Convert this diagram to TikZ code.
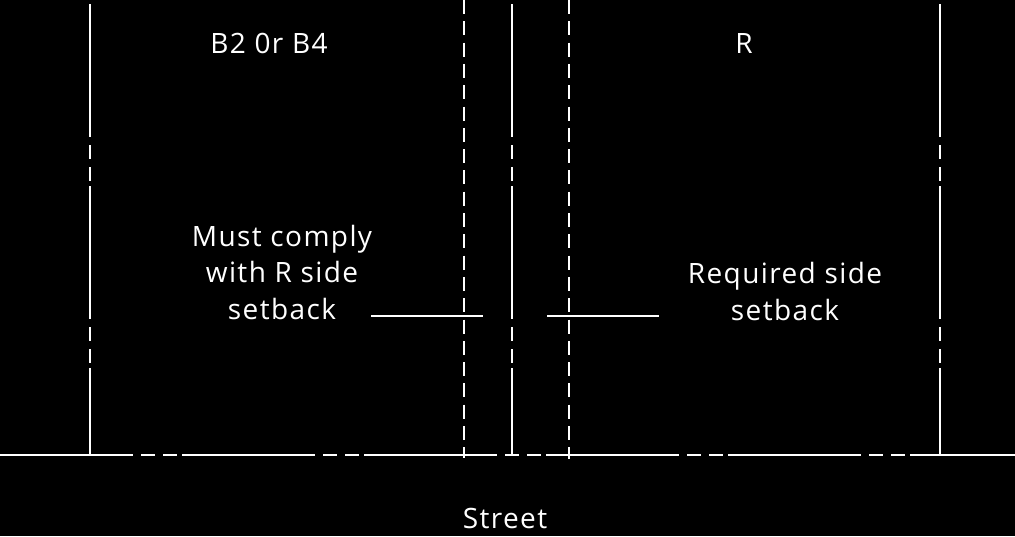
\documentclass[tikz,border=0pt]{standalone}
\usepackage{fontspec}
\setmainfont{Open Sans}[LetterSpace=5]
\begin{document}
\begin{tikzpicture}[x=1pt,y=-1pt,
  lbl/.style={text=white,inner sep=0pt,font=\fontsize{28}{36.5}\selectfont,align=center},
  propline/.style={white,line width=1.6pt,dash pattern=on 133pt off 8pt on 14pt off 8pt on 14pt off 5pt},
  hidden/.style={white,line width=1.6pt,dash pattern=on 14pt off 7.3pt},
  solidline/.style={white,line width=1.6pt}]
\fill[black] (0,0) rectangle (1015,536);
\useasboundingbox (0,0) rectangle (1015,536);
% coordinates
\coordinate (l1t) at (90,4);   \coordinate (l1b) at (90,455);
\coordinate (l2t) at (512,4);  \coordinate (l2b) at (512,455);
\coordinate (l3t) at (940,4);  \coordinate (l3b) at (940,455);
\coordinate (d1t) at (464,0);  \coordinate (d1b) at (464,458);
\coordinate (d2t) at (569,0);  \coordinate (d2b) at (569,459);
\coordinate (sl) at (0,455);   \coordinate (sr) at (1015,455);
\coordinate (la) at (371,316); \coordinate (lb) at (483,316);
\coordinate (ra) at (547,316); \coordinate (rb) at (659,316);
% lines
\draw[propline] (sl) -- (sr);
\draw[propline] (l1t) -- (l1b);
\draw[propline] (l2t) -- (l2b);
\draw[propline] (l3t) -- (l3b);
\draw[hidden] (d1t) -- (d1b);
\draw[hidden] (d2t) -- (d2b);
\draw[solidline] (la) -- (lb);
\draw[solidline] (ra) -- (rb);
% labels
\node[lbl,anchor=base] (b2) at (269,53) {B2 0r B4};
\node[lbl,anchor=base] (r) at (744,53) {R};
\node[lbl,anchor=base] (must) at (282,319) {Must comply\\with R side\\setback};
\node[lbl,anchor=base] (req) at (785,320) {Required side\\setback};
\node[lbl,anchor=base] (street) at (505,528) {Street};
\end{tikzpicture}
\end{document}
